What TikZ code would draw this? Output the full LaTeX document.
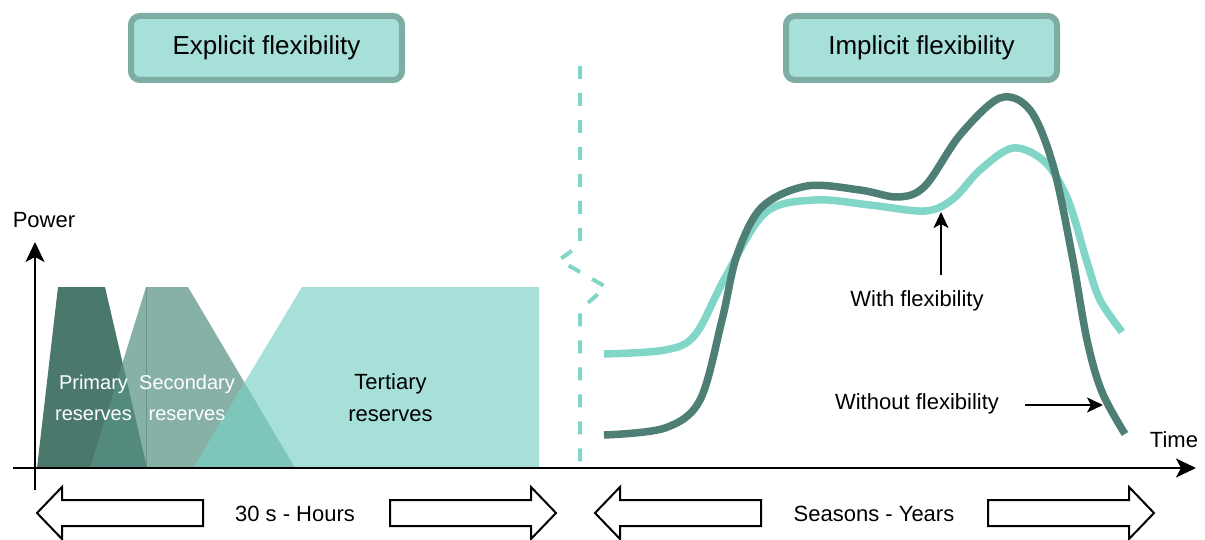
\documentclass[tikz,border=0pt]{standalone}
\usepackage{fontspec}
\setmainfont{Liberation Sans}
\usetikzlibrary{arrows.meta}

\definecolor{darkteal}{RGB}{78,127,116}
\definecolor{lightteal}{RGB}{130,214,200}
\definecolor{boxfill}{RGB}{166,224,216}
\definecolor{boxedge}{RGB}{125,173,163}
\definecolor{primcol}{RGB}{74,120,109}
\definecolor{seccol}{RGB}{89,146,132}
\definecolor{tertcol}{RGB}{123,209,197}

\begin{document}
\begin{tikzpicture}[x=1pt,y=-1pt,
  titlebox/.style={draw=boxedge, fill=boxfill, line width=6pt, rounded corners=9pt,
    minimum width=271pt, minimum height=64pt, inner sep=0pt,
    font=\fontsize{26}{30}\selectfont, text=black},
  lbl/.style={font=\fontsize{22}{26}\selectfont, inner sep=0pt},
  reslabel/.style={align=center, inner sep=0pt, font=\fontsize{20}{31}\selectfont, text=white},
  axis/.style={line width=2pt, -{Stealth[length=20pt,width=19pt,inset=5pt]}},
  pointer/.style={line width=2pt, -{Stealth[length=16pt,width=15pt,inset=4pt]}},
  curve/.style={line width=7.5pt, line join=round},
  blockarrow/.style={draw=black, line width=2pt, fill=white, line join=miter},
  breakline/.style={lightteal, line width=4pt, dash pattern=on 13pt off 14pt},
]
\useasboundingbox (0,0) rectangle (1205,540);
\fill[white] (0,0) rectangle (1205,540);

% reserve activation profiles
\fill[primcol] (37,468) -- (58,287) -- (105,287) -- (147,468) -- cycle;
\fill[seccol, opacity=0.72] (90,468) -- (146,287) -- (188,287) -- (295,468) -- cycle;
\draw[seccol!80!black, line width=1pt, opacity=0.45] (146,287) -- (146,468);
\fill[tertcol, opacity=0.67] (193,468) -- (302,287) -- (539,287) -- (539,468) -- cycle;

\node[reslabel] (prim) at (93.5,398) {Primary\\reserves};
\node[reslabel] (sec) at (187,398) {Secondary\\reserves};
\node[reslabel, text=black, font=\fontsize{22}{32}\selectfont] (tert) at (390.5,398) {Tertiary\\reserves};

% axes
\coordinate (ybot) at (35,490);
\coordinate (ytop) at (35,242);
\coordinate (xleft) at (13,468);
\coordinate (xright) at (1196,468);
\draw[axis] (ybot) -- (ytop);
\draw[axis] (xleft) -- (xright);
\node[lbl] (power) at (44,220) {Power};
\node[lbl] (time) at (1174,440) {Time};

% time-scale break
\draw[breakline] (580,66) -- (580,245) -- (559,260) -- (606,287) -- (582,308) -- (580,310) -- (580,468);

% titles
\node[titlebox] (explicit) at (266.5,48) {Explicit flexibility};
\node[titlebox] (implicit) at (921.5,48) {Implicit flexibility};

% demand profiles
\draw[curve, lightteal] plot[smooth, tension=0.55] coordinates {
  (604,354) (665,350) (695,335) (725,278) (765,213) (815,200) (870,205)
  (925,211) (953,199) (980,170) (1013,148) (1045,162) (1068,200)
  (1087,262) (1100,300) (1122,332)};
\draw[curve, darkteal] plot[smooth, tension=0.55] coordinates {
  (604,435) (665,428) (700,400) (722,320) (737,255) (762,207) (807,186)
  (860,190) (898,197) (925,186) (960,135) (1000,98) (1030,110)
  (1053,165) (1072,255) (1087,340) (1102,392) (1125,434)};

% curve annotations
\node[lbl] (withlbl) at (917,301) {With flexibility};
\node[lbl] (withoutlbl) at (917,404) {Without flexibility};
\coordinate (withtail) at (941,275);
\coordinate (withtip) at (941,212);
\draw[pointer] (withtail) -- (withtip);
\coordinate (wotail) at (1025,405);
\coordinate (wotip) at (1103,405);
\draw[pointer] (wotail) -- (wotip);

% time-range block arrows
\draw[blockarrow] (37,513) -- (62,487) -- (62,500) -- (203,500) -- (203,526) -- (62,526) -- (62,539) -- cycle;
\draw[blockarrow] (556,513) -- (531,487) -- (531,500) -- (390,500) -- (390,526) -- (531,526) -- (531,539) -- cycle;
\draw[blockarrow] (595,513) -- (620,487) -- (620,500) -- (761,500) -- (761,526) -- (620,526) -- (620,539) -- cycle;
\draw[blockarrow] (1154,513) -- (1129,487) -- (1129,500) -- (988,500) -- (988,526) -- (1129,526) -- (1129,539) -- cycle;
\node[lbl] (shortrange) at (295,514) {30 s - Hours};
\node[lbl] (longrange) at (874,514) {Seasons - Years};
\end{tikzpicture}
\end{document}
